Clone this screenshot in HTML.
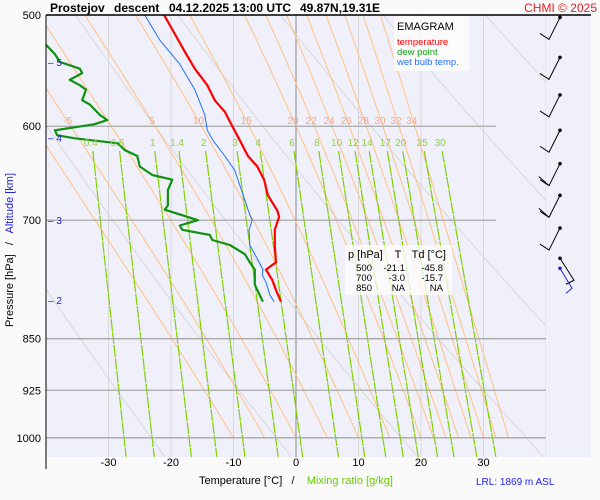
<!DOCTYPE html>
<html><head><meta charset="utf-8">
<style>
body{margin:0;background:#fafafa;font-family:"Liberation Sans",sans-serif;}
svg{display:block}
text{font-family:"Liberation Sans",sans-serif;white-space:pre}
</style></head>
<body>
<svg id="chart" width="600" height="500">
  <rect x="0" y="0" width="600" height="500" fill="#fafafa"/>
  <rect x="46" y="15" width="545" height="442" fill="#f0f0fb"/>
  <defs><clipPath id="pc"><rect x="46" y="15" width="500" height="442"/></clipPath></defs>
  <g id="bg" clip-path="url(#pc)"></g>
  <g id="grid"></g>
  <g id="series"></g>
  <line x1="46" y1="15" x2="591" y2="15" stroke="#000" stroke-width="1.5"/>
  <line x1="46" y1="15" x2="46" y2="469" stroke="#000" stroke-width="1"/>
  <g id="axes"></g>
  <g font-size="12" font-weight="bold">
    <text x="50" y="12">Prostejov</text>
    <text x="114" y="12">descent</text>
    <text x="169" y="12">04.12.2025 13:00 UTC</text>
    <text x="300" y="12">49.87N,19.31E</text>
  </g>
  <text x="597" y="12" font-size="12" fill="#e02020" text-anchor="end">CHMI © 2025</text>
  <g>
    <rect x="394" y="16" width="75" height="55" fill="#fff" opacity="0.75"/>
    <text x="397" y="30" font-size="11">EMAGRAM</text>
    <text x="397" y="45" font-size="9.5" fill="#ff0000">temperature</text>
    <text x="397" y="55" font-size="9.5" fill="#10a010">dew point</text>
    <text x="397" y="65" font-size="9.5" fill="#2070ff">wet bulb temp.</text>
  </g>
  <g>
    <rect x="345" y="245" width="107" height="50" fill="#fff" opacity="0.75"/>
    <text x="348" y="258" font-size="11">p [hPa]</text>
    <text x="398" y="258" font-size="11" text-anchor="middle">T</text>
    <text x="446" y="258" font-size="11" text-anchor="end">Td [°C]</text>
    <g font-size="9.5">
      <text x="372" y="271" text-anchor="end">500</text><text x="405" y="271" text-anchor="end">-21.1</text><text x="443" y="271" text-anchor="end">-45.8</text>
      <text x="372" y="281" text-anchor="end">700</text><text x="405" y="281" text-anchor="end">-3.0</text><text x="443" y="281" text-anchor="end">-15.7</text>
      <text x="372" y="291" text-anchor="end">850</text><text x="405" y="291" text-anchor="end">NA</text><text x="443" y="291" text-anchor="end">NA</text>
    </g>
  </g>
  <g id="winds"></g>
  <text transform="translate(13,250) rotate(-90)" font-size="11" text-anchor="middle" xml:space="preserve"><tspan fill="#000">Pressure [hPa]   /   </tspan><tspan fill="#2020e0">Altitude [km]</tspan></text>
  <text x="296" y="484" font-size="11" text-anchor="middle" xml:space="preserve"><tspan fill="#000">Temperature [°C]   /    </tspan><tspan fill="#66cc00">Mixing ratio [g/kg]</tspan></text>
  <text x="476" y="485" font-size="10" fill="#2020ff">LRL: 1869 m ASL</text>
</svg>
<script>
// data
const tempP = [500,512,531,546,561,575,586,600,614,630,641,655,672,689,696,711,730,750,759,772,785,800];
const tempT = [-21.1,-19.8,-17.8,-16.2,-14.2,-13.0,-11.4,-10.2,-9.0,-7.7,-6.2,-5.1,-4.5,-3.0,-2.7,-3.4,-3.4,-3.2,-4.8,-3.8,-3.2,-2.4];
const dewP = [525,533,540,546,550,556,561,565,575,579,589,594,598,604,609,612,617,624,630,641,650,655,666,683,688,700,706,711,717,723,729,740,750,759,778,800];
const dewT = [-40,-38.6,-37.8,-34.6,-34.2,-36.2,-34.6,-33.6,-34.2,-33,-31.4,-30.2,-32.2,-38.6,-38.2,-35.4,-28.5,-27.4,-25.4,-25,-23,-19.8,-20.5,-20.5,-21,-15.7,-18.6,-18.2,-13.8,-13.4,-10.6,-8.2,-7.4,-6.6,-6.6,-5.3];
const wbP = [500,521,542,565,589,604,614,630,645,661,677,694,700,711,729,747,759,766,775,791,800];
const wbT = [-24.2,-21.8,-18.6,-16.2,-14.6,-14.2,-13.3,-11.4,-9.8,-9.0,-8.2,-7.4,-7.0,-7.5,-7.4,-6.1,-5.3,-5.4,-4.8,-4.2,-3.5];
const pressureTicks = [500,600,700,850,925,1000];
const tempTicks = [-30,-20,-10,0,10,20,30];
const thetaWLabels = [-5,5,10,15,20,22,24,26,28,30,32,34];
const thetaW = [-10,-5,0,5,10,15,20,22,24,26,28,30,32,34];
const mixRatios = [0.4,0.6,1,1.4,2,3,4,6,8,10,12,14,17,20,25,30];
const dryThetaK = [230,250,270,290,310,330,350,370,390];
const altKm = [5,4,3,2];
const altP = [540,611,700,798];
const windP = [502,536,570,604,638,672,709,745];

const NS='http://www.w3.org/2000/svg';
const X = t => 296 + t*6.25;
const Y = p => 15 + 610*Math.log(p/500);
function mk(tag, attrs, parent){const e=document.createElementNS(NS,tag);for(const k in attrs)e.setAttribute(k,attrs[k]);parent.appendChild(e);return e;}
const bg=document.getElementById('bg'), grid=document.getElementById('grid'), ser=document.getElementById('series'), axes=document.getElementById('axes'), winds=document.getElementById('winds');

for(let t=-40;t<=40;t+=10){
  const l=mk('line',{x1:X(t),y1:15,x2:X(t),y2:457,stroke:t===0?'#888':'#d8d8d8','stroke-width':1},bg);
  
  
}
for(const th of dryThetaK){
  let d='';
  for(let p=1050;p>=480;p-=10){const T=th*Math.pow(p/1000,0.286)-273.15;d+=(d?'L':'M')+X(T).toFixed(1)+','+Y(p).toFixed(1);}
  const e=mk('path',{d:d,fill:'none',stroke:'#d8d8d8','stroke-width':1},bg);
  
  
}
function es(T){return 6.112*Math.exp(17.67*T/(T+243.5));}
function gammaM(T,p){const Tk=T+273.15;const e=es(T);const r=0.622*e/(p-e);const L=2.501e6,Rd=287,cp=1005,eps=0.622;
  const num=(Rd*Tk+L*r)/(cp+L*L*r*eps/(Rd*Tk*Tk));return num/p;}
for(const tw of thetaW){
  let T=tw,p=1000,d='M'+X(T).toFixed(1)+','+Y(p).toFixed(1);
  while(p>480){const dp=-5;T+=gammaM(T,p)*dp;p+=dp;d+='L'+X(T).toFixed(1)+','+Y(p).toFixed(1);}
  const e=mk('path',{d:d,fill:'none',stroke:'#ffc080','stroke-width':1},bg);
  
  
}
for(const tw of thetaWLabels){
  let T=tw,p=1000;while(p>600){T+=gammaM(T,p)*-5;p-=5;}
  const t=mk('text',{x:X(T)-3,y:124,'font-size':10,fill:'#f4a890','text-anchor':'middle'},axes);
  t.textContent=tw;
  
  
}
function tdFromE(e){const l=Math.log(e/6.112);return 243.5*l/(17.67-l);}
for(const w of mixRatios){
  const pTop=625,pBot=1080;
  const T1=tdFromE(w*pTop/(622+w)),T2=tdFromE(w*pBot/(622+w));
  const e=mk('line',{x1:X(T1),y1:Y(pTop),x2:X(T2),y2:Y(pBot),stroke:'#80d000','stroke-width':1.2,'stroke-dasharray':'12,1'},bg);
  
  
  const t=mk('text',{x:X(T1)-2,y:146,'font-size':10,fill:'#90d040','text-anchor':'middle'},axes);
  t.textContent=w;
  
  
}
for(const p of pressureTicks){
  if(p===500) continue;
  const x2=(p<800)?496:546;
  const l=mk('line',{x1:46,y1:Y(p),x2:x2,y2:Y(p),stroke:'#a8a8a8','stroke-width':1.3},grid);
  
  
}
for(const p of pressureTicks){
  const t=mk('text',{x:41,y:Y(p)+4,'font-size':11,'text-anchor':'end'},axes);
  t.textContent=p;
  
  
}
for(const v of tempTicks){
  const t=mk('text',{x:X(v),y:466,'font-size':11,'text-anchor':'middle'},axes);
  t.textContent=v;
  
  
}
altKm.forEach((k,i)=>{
  const t=mk('text',{x:48,y:Y(altP[i])+4,'font-size':10,fill:'#2020e0'},axes);
  t.textContent='– '+k;
  
  
});
function line(P,T,color,w,name){
  const d=P.map((p,i)=>(i?'L':'M')+X(T[i]).toFixed(1)+','+Y(p).toFixed(1)).join('');
  const e=mk('path',{d:d,fill:'none',stroke:color,'stroke-width':w,'stroke-linejoin':'round'},ser);
  
  
}
line(wbP,wbT,'#2070ff',1,'wet-bulb-line');
line(dewP,dewT,'#109010',2.2,'dew-point-line');
line(tempP,tempT,'#ff0000',2.2,'temperature-line');
windP.forEach((p,i)=>{
  const y=Y(p), x=560;
  const last=i===windP.length-1;
  let d;
  if(!last) d=`M${x},${y} L${x-11},${y+22} L${x-20},${y+16}`;
  else d=`M${x},${y} L${x+14},${y+22} L${x+6},${y+26}`;
  const e=mk('path',{d:d,fill:'none',stroke:'#000','stroke-width':1},winds);
  
  
  mk('circle',{cx:x,cy:y,r:1.8,fill:'#000'},winds);
  if(i===4||i===5){mk('line',{x1:x-11,y1:y+22,x2:x-21,y2:y+13,stroke:'#000'},winds);}
  if(last){
    const b=mk('path',{d:`M${x},${y+10} L${x+12},${y+30} L${x+6},${y+35}`,fill:'none',stroke:'#2020e0','stroke-width':1},winds);
    
    
    mk('circle',{cx:x,cy:y+10,r:1.8,fill:'#2020e0'},winds);
  }
});
</script>
</body></html>
